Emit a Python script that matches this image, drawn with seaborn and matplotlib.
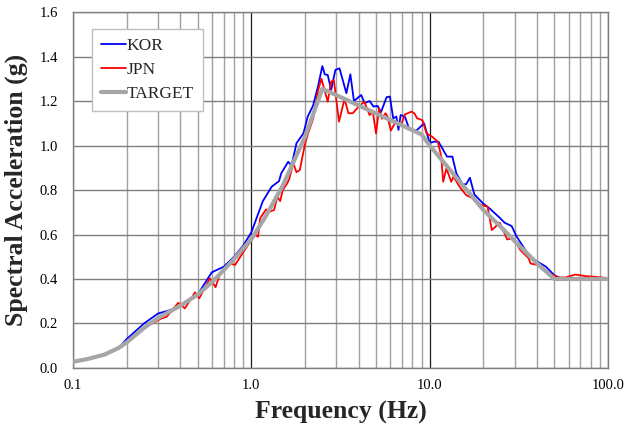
import matplotlib
matplotlib.use("Agg")
import matplotlib.pyplot as plt
from matplotlib.ticker import FixedLocator, FixedFormatter, NullFormatter
import seaborn as sns

# Response spectra: frequency (Hz) and spectral acceleration (g)
KOR_f = [0.1, 0.12, 0.15, 0.18, 0.2, 0.25, 0.3, 0.35, 0.4, 0.5, 0.6, 0.7, 0.8, 0.9,
         1.0, 1.16, 1.3, 1.43, 1.47, 1.61, 1.68, 1.79, 1.96, 2.07, 2.22, 2.37, 2.5,
         2.58, 2.68, 2.8, 2.96, 3.12, 3.41, 3.59, 3.76, 4.13, 4.31, 4.6, 4.84, 5.1,
         5.33, 5.73, 5.98, 6.24, 6.5, 6.68, 6.87, 7.26, 7.65, 7.98, 8.5, 9.3, 10.0,
         10.5, 11.2, 12.5, 13.4, 14.1, 15.3, 16.0, 16.8, 17.8, 19.9, 21.6, 24.7,
         26.3, 28.8, 30.6, 34.8, 38.8, 44.9, 49.8, 55.0, 70.0, 100.0]
KOR_v = [0.03, 0.04, 0.06, 0.09, 0.13, 0.20, 0.245, 0.26, 0.28, 0.33, 0.43, 0.455,
         0.50, 0.55, 0.61, 0.75, 0.815, 0.84, 0.875, 0.927, 0.91, 1.01, 1.055, 1.13,
         1.18, 1.27, 1.357, 1.32, 1.317, 1.25, 1.34, 1.347, 1.235, 1.32, 1.20, 1.227,
         1.19, 1.20, 1.175, 1.178, 1.15, 1.217, 1.22, 1.122, 1.13, 1.07, 1.137, 1.13,
         1.077, 1.067, 1.07, 1.10, 1.01, 1.017, 1.017, 0.95, 0.95, 0.875, 0.825,
         0.826, 0.855, 0.78, 0.74, 0.718, 0.675, 0.653, 0.638, 0.593, 0.523, 0.485,
         0.455, 0.418, 0.40, 0.40, 0.40]

JPN_f = [0.1, 0.12, 0.15, 0.18, 0.2, 0.25, 0.3, 0.314, 0.335, 0.36, 0.389, 0.424,
         0.483, 0.51, 0.586, 0.63, 0.66, 0.76, 0.81, 0.93, 1.05, 1.09, 1.12, 1.21,
         1.27, 1.34, 1.40, 1.45, 1.5, 1.59, 1.63, 1.72, 1.79, 1.87, 1.99, 2.07, 2.22,
         2.37, 2.47, 2.55, 2.68, 2.8, 2.9, 3.1, 3.33, 3.5, 3.7, 4.0, 4.3, 4.6, 4.8,
         5.0, 5.2, 5.4, 5.65, 5.8, 6.05, 6.45, 6.9, 7.26, 7.9, 8.2, 8.5, 9.1, 9.6,
         10.3, 11.1, 11.6, 11.9, 12.4, 13.2, 13.6, 14.7, 16.0, 17.4, 19.4, 21.1,
         22.3, 24.7, 27.2, 29.5, 32.2, 35.9, 36.7, 40.1, 44.9, 48.8, 53.0, 57.7,
         65.6, 74.6, 84.9, 96.5, 100.0]
JPN_v = [0.03, 0.04, 0.06, 0.09, 0.115, 0.18, 0.215, 0.223, 0.23, 0.26, 0.293, 0.268,
         0.34, 0.313, 0.403, 0.363, 0.413, 0.47, 0.463, 0.538, 0.598, 0.59, 0.673,
         0.713, 0.703, 0.71, 0.77, 0.75, 0.80, 0.83, 0.85, 0.92, 0.88, 0.89, 1.0,
         1.05, 1.12, 1.25, 1.30, 1.26, 1.197, 1.287, 1.294, 1.107, 1.21, 1.145, 1.145,
         1.175, 1.197, 1.137, 1.15, 1.054, 1.167, 1.12, 1.145, 1.13, 1.067, 1.107,
         1.09, 1.14, 1.152, 1.145, 1.122, 1.114, 1.054, 1.04, 1.017, 0.95, 0.837,
         0.897, 0.837, 0.86, 0.815, 0.777, 0.763, 0.733, 0.725, 0.62, 0.653, 0.578,
         0.583, 0.53, 0.493, 0.47, 0.463, 0.437, 0.418, 0.407, 0.407, 0.42, 0.413,
         0.41, 0.405, 0.40]

TARGET_f = [0.1, 0.12, 0.15, 0.18, 0.2, 0.25, 0.3, 0.4, 0.5, 0.6, 0.7, 0.8, 1.0,
            1.2, 1.5, 2.0, 2.5, 9.0, 10.0, 15.0, 20.0, 25.0, 30.0, 40.0, 50.0, 100.0]
TARGET_v = [0.028, 0.04, 0.06, 0.09, 0.115, 0.18, 0.225, 0.28, 0.33, 0.385, 0.44,
            0.49, 0.58, 0.68, 0.82, 1.04, 1.255, 1.05, 1.0, 0.83, 0.71, 0.635, 0.57,
            0.47, 0.40, 0.40]

x_ticks = [0.1, 1.0, 10.0, 100.0]
x_tick_labels = ["0.1", "1.0", "10.0", "100.0"]
y_ticks = [0.0, 0.2, 0.4, 0.6, 0.8, 1.0, 1.2, 1.4, 1.6]
y_tick_labels = ["0.0", "0.2", "0.4", "0.6", "0.8", "1.0", "1.2", "1.4", "1.6"]

sns.set_theme(style="white")
plt.rcParams["font.family"] = ["Liberation Serif", "DejaVu Serif"]

fig = plt.figure(figsize=(6.37, 4.29), dpi=100)
ax = fig.add_axes([0.1146, 0.1422, 0.84, 0.8298])

sns.lineplot(x=KOR_f, y=KOR_v, ax=ax, color="#0000ff", linewidth=1.3,
             label="KOR", sort=False, estimator=None, zorder=3)
sns.lineplot(x=JPN_f, y=JPN_v, ax=ax, color="#ff0000", linewidth=1.3,
             label="JPN", sort=False, estimator=None, zorder=4)
sns.lineplot(x=TARGET_f, y=TARGET_v, ax=ax, color="#a6a6a6", linewidth=3.0,
             label="TARGET", sort=False, estimator=None, zorder=5)

ax.set_xscale("log")
ax.set_xlim(0.1, 100.0)
ax.set_ylim(0.0, 1.6)

ax.xaxis.set_major_locator(FixedLocator(x_ticks))
ax.xaxis.set_major_formatter(FixedFormatter(x_tick_labels))
minor = [m * d for d in (0.1, 1.0, 10.0) for m in range(2, 10)]
ax.xaxis.set_minor_locator(FixedLocator(minor))
ax.xaxis.set_minor_formatter(NullFormatter())
ax.yaxis.set_major_locator(FixedLocator(y_ticks))
ax.yaxis.set_major_formatter(FixedFormatter(y_tick_labels))

ax.grid(True, which="major", axis="x", color="#1a1a1a", linewidth=0.9, zorder=1)
ax.grid(True, which="minor", axis="x", color="#a0a0a0", linewidth=1.0, zorder=1)
ax.grid(True, which="major", axis="y", color="#7f7f7f", linewidth=1.0, zorder=1)
ax.set_axisbelow(True)

for s in ax.spines.values():
    s.set_color("#7f7f7f")
    s.set_linewidth(1.0)

ax.tick_params(axis="both", which="both", length=0, labelsize=10.5, colors="#000000")
ax.tick_params(axis="x", pad=8)
ax.tick_params(axis="y", pad=11)

ax.set_xlabel("Frequency (Hz)", fontsize=18.5, fontweight="bold", labelpad=6)
ax.set_ylabel("Spectral Acceleration (g)", fontsize=18.5, fontweight="bold", labelpad=8)

leg = ax.legend(loc="upper left", bbox_to_anchor=(0.0355, 0.952), borderaxespad=0,
                fontsize=12.5, frameon=True, fancybox=False, framealpha=1,
                edgecolor="#bfbfbf", handlelength=1.45, handletextpad=0.05,
                labelspacing=0.45, borderpad=0.5)
leg.get_frame().set_linewidth(1.0)

fig.savefig("out.png", dpi=100)
